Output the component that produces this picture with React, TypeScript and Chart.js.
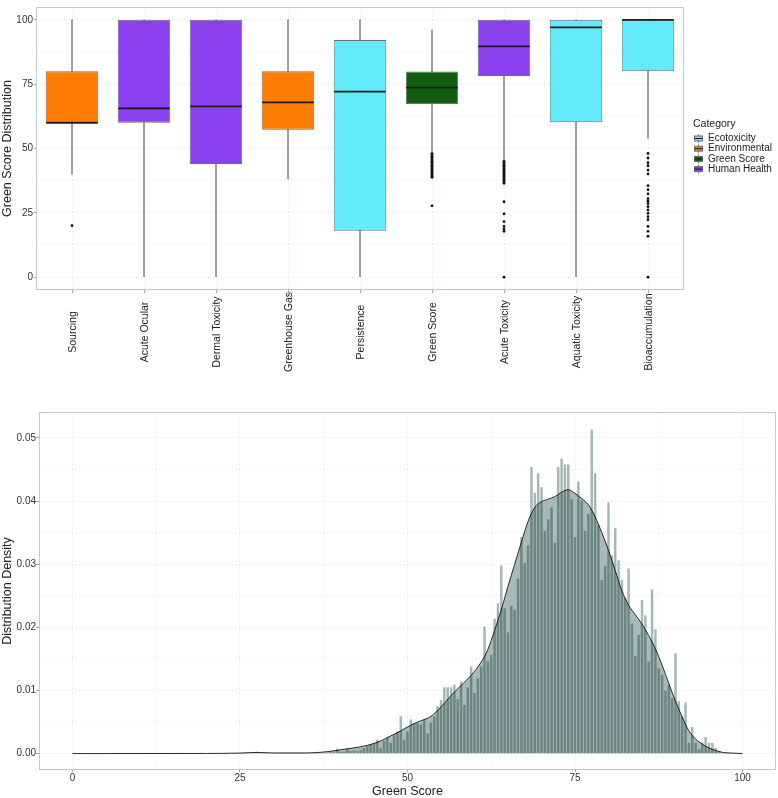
import React, { useEffect, useRef } from 'react';
import { Chart, registerables } from 'chart.js';

Chart.register(...registerables);

// ---------------- Box plot data ----------------
const CATEGORIES = [
  'Sourcing',
  'Acute Ocular',
  'Dermal Toxicity',
  'Greenhouse Gas',
  'Persistence',
  'Green Score',
  'Acute Toxicity',
  'Aquatic Toxicity',
  'Bioaccumulation',
];
const CATEGORY_GROUP = [
  'Environmental',
  'Human Health',
  'Human Health',
  'Environmental',
  'Ecotoxicity',
  'Green Score',
  'Human Health',
  'Ecotoxicity',
  'Ecotoxicity',
];
const GROUPS = ['Ecotoxicity', 'Environmental', 'Green Score', 'Human Health'];
const LEGEND_TITLE = 'Category';

const Q1 = [60, 60, 44, 57.3, 18, 67.3, 78.2, 60.2, 80];
const MEDIAN = [60, 65.6, 66.4, 67.9, 72.1, 73.7, 89.7, 97.1, 100];
const Q3 = [80, 100, 100, 80, 92.2, 79.9, 100, 100, 100];
const WHISKER_LOW = [40, 0, 0, 38.2, 0, 48.5, 45.5, 0, 54];
const WHISKER_HIGH = [100, 100, 100, 100, 100, 96, 100, 100, 100];

const OUTLIERS_SOURCING = [20];
const OUTLIERS_GREEN_SCORE = [48, 47.5, 47, 46.5, 46, 45.5, 45, 44.5, 44, 43.5, 43, 42.5, 42, 41.5, 41, 40.5, 40, 39.5, 39, 38.8, 27.7];
const OUTLIERS_ACUTE_TOX = [45, 44.5, 44, 43.5, 43, 42.5, 42, 41.5, 41, 40.5, 40, 39.5, 39, 38.5, 38, 37.5, 37, 36.5, 29.3, 24.6, 21.6, 19.7, 18.7, 17.8, 0];
const OUTLIERS_BIOACC = [48.1, 46.3, 44.5, 43.3, 41.6, 40.1, 35.6, 34, 32.4, 30.5, 29.5, 28.6, 27.4, 26.1, 24.8, 23.5, 22.3, 19.7, 17.8, 15.9, 0];
const OUTLIERS: number[][] = [
  OUTLIERS_SOURCING,
  [],
  [],
  [],
  [],
  OUTLIERS_GREEN_SCORE,
  OUTLIERS_ACUTE_TOX,
  [],
  OUTLIERS_BIOACC,
];

const BOX_Y_TICKS = [0, 25, 50, 75, 100];

// ---------------- Histogram data ----------------
const HIST_X = [
  27.5, 38.5, 39, 39.5, 40, 40.5, 41, 41.5, 42, 42.5, 43, 43.5, 44, 44.5, 45, 45.5, 46, 46.5, 47, 47.5,
  48, 48.5, 49, 49.5, 50, 50.5, 51, 51.5, 52, 52.5, 53, 53.5, 54, 54.5, 55, 55.5, 56, 56.5, 57, 57.5,
  58, 58.5, 59, 59.5, 60, 60.5, 61, 61.5, 62, 62.5, 63, 63.5, 64, 64.5, 65, 65.5, 66, 66.5, 67, 67.5,
  68, 68.5, 69, 69.5, 70, 70.5, 71, 71.5, 72, 72.5, 73, 73.5, 74, 74.5, 75, 75.5, 76, 76.5, 77, 77.5,
  78, 78.5, 79, 79.5, 80, 80.5, 81, 81.5, 82, 82.5, 83, 83.5, 84, 84.5, 85, 85.5, 86, 86.5, 87, 87.5,
  88, 88.5, 89, 89.5, 90, 90.5, 91, 91.5, 92, 92.5, 93, 93.5, 94, 94.5, 95, 95.5, 96, 96.5,
];
const HIST_DENSITY = [
  0.0003, 0.0002, 0.0002, 0.0008, 0.0003, 0.0003, 0.0008, 0.0004, 0.0005, 0.0004, 0.0006, 0.0009, 0.0012, 0.0014, 0.0017, 0.0022, 0.0009, 0.002, 0.0027, 0.0017,
  0.003, 0.0035, 0.0059, 0.0022, 0.0035, 0.0054, 0.0048, 0.0048, 0.0046, 0.0054, 0.0032, 0.0049, 0.0059, 0.0075, 0.0085, 0.0105, 0.0105, 0.0105, 0.0109, 0.0086,
  0.0114, 0.0077, 0.0105, 0.0138, 0.0096, 0.0119, 0.0138, 0.0201, 0.0146, 0.0156, 0.0214, 0.0238, 0.0298, 0.023, 0.0192, 0.0234, 0.0228, 0.0277, 0.0343, 0.0302,
  0.033, 0.0454, 0.0413, 0.0444, 0.0422, 0.0353, 0.0371, 0.039, 0.0334, 0.0454, 0.0467, 0.0458, 0.0458, 0.0403, 0.0343, 0.0431, 0.0401, 0.0353, 0.038, 0.0513,
  0.0444, 0.0362, 0.0275, 0.0297, 0.0398, 0.0314, 0.0357, 0.0306, 0.0275, 0.0247, 0.0293, 0.0206, 0.0155, 0.0188, 0.0243, 0.0219, 0.0146, 0.026, 0.0197, 0.0135,
  0.0125, 0.01, 0.0109, 0.0088, 0.0159, 0.0083, 0.0059, 0.0081, 0.0017, 0.0042, 0.0017, 0.0007, 0.0018, 0.0026, 0.0017, 0.0017, 0.0009, 0.0004,
];

const DENSITY_X = [
  0, 20, 25, 27.5, 30, 35, 38, 40, 42, 44, 46, 47.5, 49, 50.5, 52, 53.5, 55, 56.5, 58, 59.5, 61, 62, 63, 64, 65, 66, 67, 68,
  69, 70, 71, 72, 73, 74, 75, 76, 77, 78, 79, 80, 81, 82, 83, 84, 85, 86, 87, 88, 89, 90, 91, 92, 93, 94, 95, 96, 97, 98, 100,
];
const DENSITY_Y = [
  0, 0.00002, 0.00008, 0.00018, 0.0001, 0.0001, 0.0003, 0.0006, 0.0009, 0.0013, 0.002, 0.0028, 0.0036, 0.0045, 0.0052, 0.0059, 0.0074, 0.0092, 0.0108, 0.0124, 0.0145, 0.0165, 0.0195, 0.0228, 0.0265, 0.03, 0.0335, 0.0368,
  0.039, 0.0399, 0.0403, 0.0407, 0.0414, 0.0418, 0.0412, 0.0404, 0.0394, 0.0375, 0.035, 0.0322, 0.029, 0.0258, 0.0235, 0.022, 0.0205, 0.0187, 0.0166, 0.014, 0.0111, 0.0083, 0.0058, 0.0036, 0.0023, 0.0015, 0.0009, 0.0005, 0.0002, 0.0001, 0,
];

const HIST_X_TICKS = [0, 25, 50, 75, 100];
const HIST_Y_TICKS = [0, 0.01, 0.02, 0.03, 0.04, 0.05];
const HIST_Y_LABELS = ['0.00', '0.01', '0.02', '0.03', '0.04', '0.05'];

// ---------------- Styles ----------------
const FONT = "'Liberation Sans', Arial, Helvetica, sans-serif";
const GROUP_COLORS: Record<string, string> = {
  Ecotoxicity: '#63EBFB',
  Environmental: '#FF7D05',
  'Green Score': '#115E11',
  'Human Health': '#8B40F0',
};
const TEXT = '#222222';
const TICK_TEXT = '#333333';
const GRID = 'rgba(190,214,222,0.42)';
const GRID_MINOR = 'rgba(190,214,222,0.3)';
const TICK_MARK = '#9aa3a3';
const PANEL_BORDER = '#C3CACB';
const HIST_BAR = 'rgb(166,184,181)';
const DENSITY_FILL = 'rgb(168,186,183)';

const withMinor = (major: number[]) => {
  const out: number[] = [];
  major.forEach((v, i) => {
    out.push(v);
    if (i < major.length - 1) out.push((v + major[i + 1]) / 2);
  });
  return out;
};

const panelBorderPlugin = {
  id: 'panelBorder',
  afterDatasetsDraw(chart: any) {
    const a = chart.chartArea;
    const ctx = chart.ctx;
    ctx.save();
    ctx.strokeStyle = PANEL_BORDER;
    ctx.lineWidth = 1;
    ctx.strokeRect(Math.round(a.left) + 0.5, Math.round(a.top) + 0.5, Math.round(a.right - a.left) - 1, Math.round(a.bottom - a.top) - 1);
    ctx.restore();
  },
};

function BoxChart() {
  const ref = useRef<HTMLCanvasElement>(null);
  useEffect(() => {
    const canvas = ref.current!;
    const outlierData: { x: string; y: number }[] = [];
    OUTLIERS.forEach((arr, i) => arr.forEach((v) => outlierData.push({ x: CATEGORIES[i], y: v })));
    const boxColors = CATEGORY_GROUP.map((g) => GROUP_COLORS[g]);

    const medianPlugin = {
      id: 'median',
      afterDatasetsDraw(chart: any) {
        const meta = chart.getDatasetMeta(1);
        const ys = chart.scales.y;
        const ctx = chart.ctx;
        ctx.save();
        ctx.strokeStyle = '#1c1c1c';
        ctx.lineWidth = 1.8;
        meta.data.forEach((el: any, i: number) => {
          const py = ys.getPixelForValue(MEDIAN[i]);
          const half = el.width / 2;
          ctx.beginPath();
          ctx.moveTo(el.x - half + 0.5, py);
          ctx.lineTo(el.x + half - 0.5, py);
          ctx.stroke();
        });
        ctx.restore();
      },
    };

    const xLabelPlugin = {
      id: 'xLabels',
      afterDraw(chart: any) {
        const xs = chart.scales.x;
        const ctx = chart.ctx;
        ctx.save();
        ctx.font = `10.5px ${FONT}`;
        ctx.fillStyle = TEXT;
        ctx.textAlign = 'center';
        ctx.textBaseline = 'middle';
        CATEGORIES.forEach((c, i) => {
          const px = xs.getPixelForValue(i);
          ctx.save();
          ctx.translate(px + 1, 332);
          ctx.rotate(-Math.PI / 2);
          ctx.fillText(c, 0, 0);
          ctx.restore();
        });
        ctx.restore();
      },
    };

    const legendPlugin = {
      id: 'boxLegend',
      afterDraw(chart: any) {
        const ctx = chart.ctx;
        ctx.save();
        ctx.fillStyle = TEXT;
        ctx.textAlign = 'left';
        ctx.textBaseline = 'middle';
        ctx.font = `10.5px ${FONT}`;
        ctx.fillText(LEGEND_TITLE, 693, 124);
        GROUPS.forEach((g, i) => {
          const cy = 138.5 + i * 10.2;
          const cx = 698.5;
          ctx.strokeStyle = '#8a8a8a';
          ctx.lineWidth = 1;
          ctx.beginPath();
          ctx.moveTo(cx, cy - 4.5);
          ctx.lineTo(cx, cy + 4.5);
          ctx.stroke();
          ctx.fillStyle = GROUP_COLORS[g];
          ctx.fillRect(cx - 4, cy - 2.5, 8, 5);
          ctx.strokeStyle = '#6e6e6e';
          ctx.strokeRect(cx - 4, cy - 2.5, 8, 5);
          ctx.strokeStyle = '#1c1c1c';
          ctx.beginPath();
          ctx.moveTo(cx - 4, cy);
          ctx.lineTo(cx + 4, cy);
          ctx.stroke();
          ctx.fillStyle = TEXT;
          ctx.font = `10px ${FONT}`;
          ctx.fillText(g, 708, cy);
        });
        ctx.restore();
      },
    };

    const chart = new Chart(canvas, {
      type: 'bar',
      data: {
        labels: CATEGORIES,
        datasets: [
          {
            type: 'bar',
            data: CATEGORIES.map((_, i) => [WHISKER_LOW[i], WHISKER_HIGH[i]]),
            backgroundColor: '#8c8c8c',
            barThickness: 1,
            grouped: false,
            order: 3,
          } as any,
          {
            type: 'bar',
            data: CATEGORIES.map((_, i) => [Q1[i], Q3[i]]),
            backgroundColor: boxColors,
            borderColor: '#6e6e6e',
            borderWidth: 1,
            borderSkipped: false,
            barPercentage: 0.73,
            categoryPercentage: 1,
            grouped: false,
            order: 2,
          } as any,
          {
            type: 'scatter',
            data: outlierData,
            backgroundColor: '#111111',
            borderWidth: 0,
            pointRadius: 1.4,
            order: 1,
          } as any,
        ],
      },
      options: {
        responsive: false,
        maintainAspectRatio: false,
        animation: false,
        devicePixelRatio: 1,
        events: [],
        layout: { padding: { left: 0, right: 94, top: 2, bottom: 0 } },
        plugins: { legend: { display: false }, tooltip: { enabled: false } },
        scales: {
          x: {
            type: 'category',
            offset: true,
            afterFit: (s: any) => {
              s.height = 110;
            },
            grid: {
              offset: false,
              color: GRID,
              tickColor: TICK_MARK,
              tickLength: 3,
              tickBorderDash: [],
            },
            border: { display: false, dash: [2, 2] },
            ticks: { display: false },
          },
          y: {
            type: 'linear',
            min: -5,
            max: 105,
            afterBuildTicks: (s: any) => {
              s.ticks = withMinor(BOX_Y_TICKS).map((v) => ({ value: v }));
            },
            afterFit: (s: any) => {
              s.width = 36;
            },
            ticks: {
              autoSkip: false,
              padding: 1,
              color: TICK_TEXT,
              font: { size: 10, family: FONT },
              callback: (v: any) => (BOX_Y_TICKS.includes(v) ? String(v) : ''),
            },
            grid: {
              color: (c: any) => (BOX_Y_TICKS.includes(c.tick?.value) ? GRID : GRID_MINOR),
              tickColor: (c: any) => (BOX_Y_TICKS.includes(c.tick?.value) ? TICK_MARK : 'rgba(0,0,0,0)'),
              tickLength: 2,
              tickBorderDash: [],
            },
            border: { display: false, dash: [2, 2] },
            title: {
              display: true,
              text: 'Green Score Distribution',
              color: TEXT,
              font: { size: 12.5, family: FONT, lineHeight: 1 },
              padding: { top: 1, bottom: 0 },
            },
          },
        },
      } as any,
      plugins: [medianPlugin, panelBorderPlugin, xLabelPlugin, legendPlugin],
    });
    return () => chart.destroy();
  }, []);
  return <canvas ref={ref} width={778} height={400} style={{ display: 'block' }} />;
}

function HistChart() {
  const ref = useRef<HTMLCanvasElement>(null);
  useEffect(() => {
    const canvas = ref.current!;
    const multiplyPlugin = {
      id: 'multiplyBars',
      beforeDatasetDraw(chart: any, args: any) {
        if (args.index === 0) {
          chart.ctx.save();
          chart.ctx.globalCompositeOperation = 'multiply';
        }
      },
      afterDatasetDraw(chart: any, args: any) {
        if (args.index === 0) chart.ctx.restore();
      },
    };
    const chart = new Chart(canvas, {
      type: 'bar',
      data: {
        datasets: [
          {
            type: 'bar',
            data: HIST_X.map((x, i) => ({ x, y: HIST_DENSITY[i] })),
            backgroundColor: HIST_BAR,
            borderWidth: 0,
            barPercentage: 0.75,
            categoryPercentage: 1,
            order: 1,
          } as any,
          {
            type: 'line',
            data: DENSITY_X.map((x, i) => ({ x, y: DENSITY_Y[i] })),
            borderColor: '#2a2a2a',
            borderWidth: 1,
            backgroundColor: DENSITY_FILL,
            fill: { value: 0 },
            pointRadius: 0,
            tension: 0.4,
            cubicInterpolationMode: 'monotone',
            order: 2,
          } as any,
        ],
      },
      options: {
        responsive: false,
        maintainAspectRatio: false,
        animation: false,
        devicePixelRatio: 1,
        events: [],
        layout: { padding: { left: 0, right: 2, top: 12, bottom: 0 } },
        plugins: { legend: { display: false }, tooltip: { enabled: false } },
        scales: {
          x: {
            type: 'linear',
            min: -5,
            max: 105,
            offset: false,
            afterBuildTicks: (s: any) => {
              s.ticks = withMinor(HIST_X_TICKS).map((v) => ({ value: v }));
            },
            afterFit: (s: any) => {
              s.height = 28;
            },
            ticks: {
              autoSkip: false,
              maxRotation: 0,
              padding: 0,
              color: TICK_TEXT,
              font: { size: 10, family: FONT },
              callback: (v: any) => (HIST_X_TICKS.includes(v) ? String(v) : ''),
            },
            grid: {
              offset: false,
              color: (c: any) => (HIST_X_TICKS.includes(c.tick?.value) ? GRID : GRID_MINOR),
              tickColor: (c: any) => (HIST_X_TICKS.includes(c.tick?.value) ? TICK_MARK : 'rgba(0,0,0,0)'),
              tickLength: 2,
              tickBorderDash: [],
            },
            border: { display: false, dash: [2, 2] },
            title: {
              display: true,
              text: 'Green Score',
              color: TEXT,
              font: { size: 12.5, family: FONT, lineHeight: 1 },
              padding: { top: 0, bottom: 0 },
            },
          },
          y: {
            type: 'linear',
            min: -0.0026,
            max: 0.0541,
            afterBuildTicks: (s: any) => {
              s.ticks = withMinor(HIST_Y_TICKS).map((v) => ({ value: v }));
            },
            afterFit: (s: any) => {
              s.width = 39;
            },
            ticks: {
              autoSkip: false,
              padding: 0,
              color: TICK_TEXT,
              font: { size: 10, family: FONT },
              callback: (v: any) => {
                const idx = HIST_Y_TICKS.indexOf(v);
                return idx >= 0 ? HIST_Y_LABELS[idx] : '';
              },
            },
            grid: {
              color: (c: any) => (HIST_Y_TICKS.includes(c.tick?.value) ? GRID : GRID_MINOR),
              tickColor: (c: any) => (HIST_Y_TICKS.includes(c.tick?.value) ? TICK_MARK : 'rgba(0,0,0,0)'),
              tickLength: 3,
              tickBorderDash: [],
            },
            border: { display: false, dash: [2, 2] },
            title: {
              display: true,
              text: 'Distribution Density',
              color: TEXT,
              font: { size: 12.5, family: FONT, lineHeight: 1 },
              padding: { top: 1, bottom: 0 },
            },
          },
        },
      } as any,
      plugins: [multiplyPlugin, panelBorderPlugin],
    });
    return () => chart.destroy();
  }, []);
  return <canvas ref={ref} width={778} height={398} style={{ display: 'block' }} />;
}

export default function App() {
  return (
    <div style={{ position: 'absolute', left: 0, top: 0, width: 778, height: 798, background: '#ffffff' }}>
      <BoxChart />
      <HistChart />
    </div>
  );
}
